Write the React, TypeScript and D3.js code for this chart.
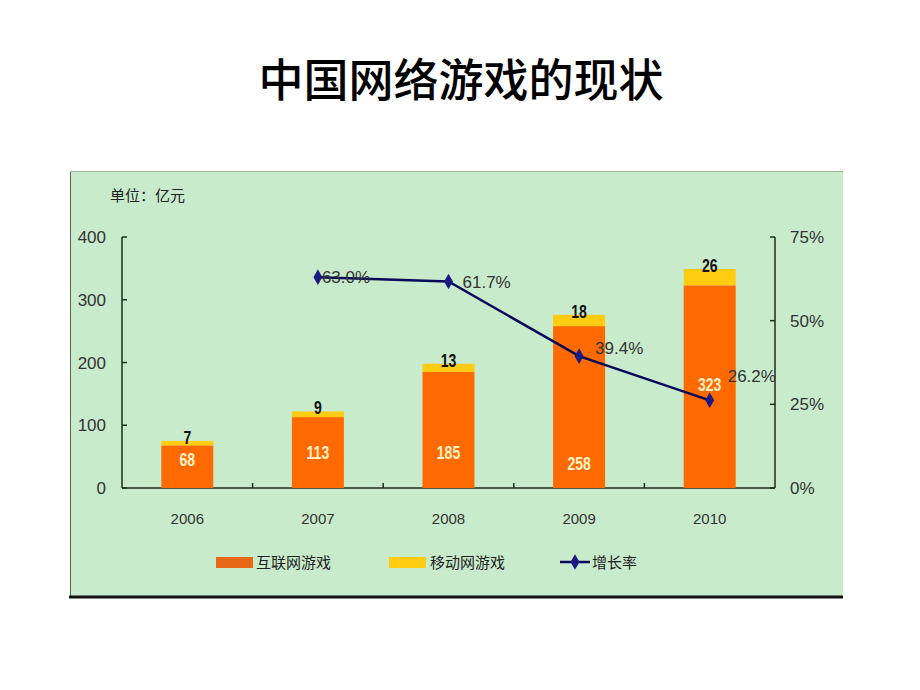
import React from "react";
import * as d3 from "d3";

const years = ["2006", "2007", "2008", "2009", "2010"];
const internetGames = [68, 113, 185, 258, 323];
const mobileGames = [7, 9, 13, 18, 26];
const growthRate: (number | null)[] = [null, 63.0, 61.7, 39.4, 26.2];
const leftTicks = [0, 100, 200, 300, 400];
const rightTicks = [0, 25, 50, 75];
const internetLabelAt = [46, 58, 57, 40, 165];
const growthLabelDx = [0, 4, 14, 16, 18];
const growthLabelDy = [0, 0, 0, -8, -24];

const W = 920, H = 690;
const plotL = 122, plotR = 775, plotT = 237, plotB = 488;

function Narrow(props: { x: number; y: number; fill: string; size: number; children: React.ReactNode }) {
  return (
    <text
      transform={`translate(${props.x},${props.y}) scale(0.78,1)`}
      textAnchor="middle"
      fontFamily="'Liberation Sans', Arial, sans-serif"
      fontWeight="bold"
      fontSize={props.size}
      fill={props.fill}
    >
      {props.children}
    </text>
  );
}

export default function App() {
  const band = d3.scaleBand<string>().domain(years).range([plotL, plotR]);
  const y = d3.scaleLinear().domain([0, 400]).range([plotB, plotT]);
  const y2 = d3.scaleLinear().domain([0, 75]).range([plotB, plotT]);
  const cx = (d: string) => (band(d) as number) + band.bandwidth() / 2;
  const bw = 52;

  const pts = years
    .map((yr, i) => ({ yr, v: growthRate[i], i }))
    .filter((p) => p.v !== null) as { yr: string; v: number; i: number }[];
  const line = d3.line<{ yr: string; v: number }>().x((p) => cx(p.yr)).y((p) => y2(p.v));
  const diamond = d3.symbol().type(d3.symbolDiamond).size(70)() as string;

  const cjk = "'Noto Sans CJK SC', sans-serif";
  const num = "'Liberation Sans', Arial, sans-serif";

  return (
    <svg width={W} height={H} style={{ position: "absolute", left: 0, top: 0, background: "#fff" }}>
      <text x={461} y={97} textAnchor="middle" fontFamily={cjk} fontSize={45} fontWeight={500} fill="#000">
        中国网络游戏的现状
      </text>
      <rect x={70} y={171} width={773} height={426} fill="#C8EBCC" />
      <line x1={70.5} y1={171} x2={70.5} y2={597} stroke="#5a6a5a" strokeWidth={1} />
      <line x1={70} y1={171.5} x2={843} y2={171.5} stroke="#9fb59f" strokeWidth={1} />
      <line x1={69} y1={597} x2={843} y2={597} stroke="#111" strokeWidth={3} />

      <text x={110} y={201} fontFamily={cjk} fontSize={15} fill="#222">单位：亿元</text>

      <g stroke="#1e2e1e" strokeWidth={1.5} fill="none">
        <line x1={plotL} y1={plotT} x2={plotL} y2={plotB} />
        <line x1={plotR} y1={plotT} x2={plotR} y2={plotB} />
        <line x1={plotL} y1={plotB} x2={plotR} y2={plotB} />
        {leftTicks.map((t) => (
          <line key={t} x1={plotL} y1={y(t)} x2={plotL + 5} y2={y(t)} />
        ))}
        {rightTicks.map((t) => (
          <line key={t} x1={plotR} y1={y2(t)} x2={plotR - 5} y2={y2(t)} />
        ))}
        {years.slice(1).map((yr) => (
          <line key={yr} x1={band(yr)} y1={plotB} x2={band(yr)} y2={plotB - 5} />
        ))}
      </g>
      {leftTicks.map((t) => (
        <text key={t} x={106} y={y(t) + 6} textAnchor="end" fontFamily={num} fontSize={17} fill="#333">
          {t}
        </text>
      ))}
      {rightTicks.map((t) => (
        <text key={t} x={790} y={y2(t) + 6} fontFamily={num} fontSize={17} fill="#333">
          {t}%
        </text>
      ))}
      {years.map((yr) => (
        <text key={yr} x={cx(yr)} y={524} textAnchor="middle" fontFamily={num} fontSize={15} fill="#333">
          {yr}
        </text>
      ))}

      {years.map((yr, i) => {
        const x0 = cx(yr) - bw / 2;
        const yI = y(internetGames[i]);
        const yM = y(internetGames[i] + mobileGames[i]);
        return (
          <g key={yr}>
            <rect x={x0} y={yI} width={bw} height={plotB - yI} fill="#FF6A00" />
            <rect x={x0} y={yM} width={bw} height={yI - yM} fill="#FFCC11" />
            <Narrow x={cx(yr)} y={y(internetLabelAt[i]) + 7} size={18} fill="#FFF2C8">
              {internetGames[i]}
            </Narrow>
            <Narrow x={cx(yr)} y={yM + 3} size={18} fill="#111">
              {mobileGames[i]}
            </Narrow>
          </g>
        );
      })}

      <path d={line(pts) as string} fill="none" stroke="#0A0A5A" strokeWidth={2.5} />
      {pts.map((p) => (
        <path key={p.yr} d={diamond} transform={`translate(${cx(p.yr)},${y2(p.v)})`} fill="#1A1A80" />
      ))}
      {pts.map((p) => (
        <text key={p.yr} x={cx(p.yr) + growthLabelDx[p.i]} y={y2(p.v) + growthLabelDy[p.i] + 6} fontFamily={num} fontSize={17} fill="#333">
          {p.v.toFixed(1)}%
        </text>
      ))}

      <rect x={216} y={557} width={37} height={11} fill="#E8681A" />
      <text x={256} y={568} fontFamily={cjk} fontSize={15} fill="#222">互联网游戏</text>
      <rect x={389} y={557} width={37} height={11} fill="#FFCC11" />
      <text x={430} y={568} fontFamily={cjk} fontSize={15} fill="#222">移动网游戏</text>
      <line x1={560} y1={562} x2={590} y2={562} stroke="#0A0A5A" strokeWidth={2.5} />
      <path d={diamond} transform="translate(575,562)" fill="#1A1A80" />
      <text x={592} y={568} fontFamily={cjk} fontSize={15} fill="#222">增长率</text>
    </svg>
  );
}
